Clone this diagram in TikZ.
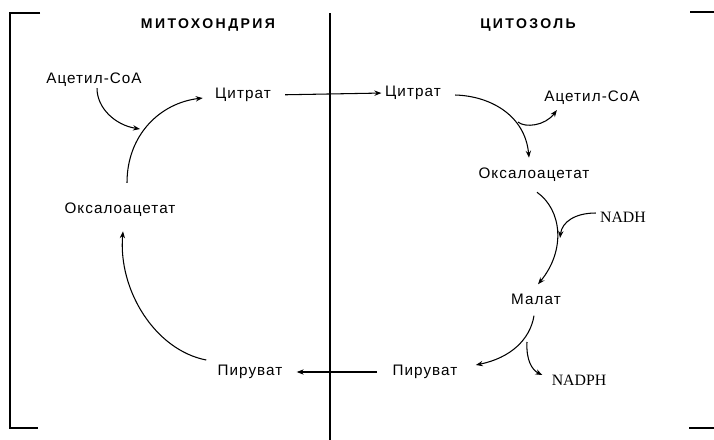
\documentclass[tikz,border=0pt]{standalone}
\usepackage{fontspec}
\setmainfont{Liberation Sans}
\newfontfamily\metfont{Liberation Sans}[LetterSpace=7]
\newfontfamily\ttlfont{Liberation Sans}[LetterSpace=17]
\newfontfamily\coffont{Liberation Serif}
\usetikzlibrary{arrows.meta, positioning}

\begin{document}
\begin{tikzpicture}[x=0.03cm, y=-0.03cm,
    met/.style={font=\metfont\fontsize{13}{15}\selectfont, inner sep=1pt},
    cof/.style={font=\coffont\fontsize{13.5}{15}\selectfont, inner sep=1pt},
    ttl/.style={font=\ttlfont\bfseries\fontsize{12}{14}\selectfont},
    rxn/.style={line width=0.9pt, -{Stealth[length=6pt,width=4.5pt]}},
    wall/.style={line width=1.4pt}]
    \useasboundingbox (0,0) rectangle (714,440);

    % Membrane and compartment border
    \draw[wall] (40,13) -- (10,13) -- (10,428) -- (38,428);
    \draw[wall] (690,12) -- (714,12);
    \draw[wall] (689,428) -- (714,428);
    \draw[wall] (330,13) -- (330,440);

    % Titles
    \node[ttl] (mito) at (208,25) {МИТОХОНДРИЯ};
    \node[ttl] (cyto) at (528,25) {ЦИТОЗОЛЬ};

    % Mitochondria
    \node[met] (acoaL) at (94,80) {Ацетил-СоА};
    \node[met] (citL) at (243,95) {Цитрат};
    \node[met] (oaaL) at (120,210) {Оксалоацетат};
    \node[met] (pyrL) at (250,372) {Пируват};

    % Cytosol
    \node[met] (citR) at (413,93) {Цитрат};
    \node[met] (acoaR) at (592,98) {Ацетил-СоА};
    \node[met] (oaaR) at (534,175) {Оксалоацетат};
    \node[cof] (nadh) at (623,217) {NADH};
    \node[met] (mal) at (536,299) {Малат};
    \node[cof] (nadph) at (579,380) {NADPH};
    \node[met] (pyrR) at (425,372) {Пируват};

    % Branch points on the curved arrows
    \coordinate (jL) at (140,129);
    \coordinate (jR) at (518,122);
    \coordinate (jN) at (560,238);
    \coordinate (jM) at (527,342);

    % Transport across the membrane
    \draw[rxn, shorten <=11pt, shorten >=2pt] (citL.east) -- (citR.west);
    \draw[rxn, shorten <=12pt, shorten >=11pt] (pyrR.west) -- (pyrL.east);

    % Mitochondrial cycle
    \draw[rxn] ([shift={(-10,-12)}]pyrL.west) .. controls (155,350) and (118,290) .. ([shift={(3,13)}]oaaL.south);
    \draw[rxn] ([shift={(7,-19)}]oaaL.north) .. controls (127,135) and (160,103) .. ([shift={(-11,3)}]citL.west);
    \draw[rxn] ([shift={(3,0)}]acoaL.south) .. controls (97,108) and (115,125) .. (jL);

    % Cytosolic reactions
    \draw[rxn] ([shift={(13,2)}]citR.east) .. controls (490,96) and (525,115) .. ([shift={(-5,-9)}]oaaR.north);
    \draw[rxn] (jR) .. controls (525,128) and (545,126) .. ([shift={(14,12)}]acoaR.west);
    \draw[rxn] ([shift={(3,9)}]oaaR.south) .. controls (562,210) and (566,250) .. ([shift={(2,-8)}]mal.north);
    \draw[rxn] ([shift={(-3,-4)}]nadh.west) .. controls (575,213) and (562,222) .. (jN);
    \draw[rxn] ([shift={(-2,10)}]mal.south) .. controls (530,340) and (510,358) .. ([shift={(17,-7)}]pyrR.east);
    \draw[rxn] (jM) .. controls (526,360) and (532,370) .. ([shift={(-8,-5)}]nadph.west);
\end{tikzpicture}
\end{document}
